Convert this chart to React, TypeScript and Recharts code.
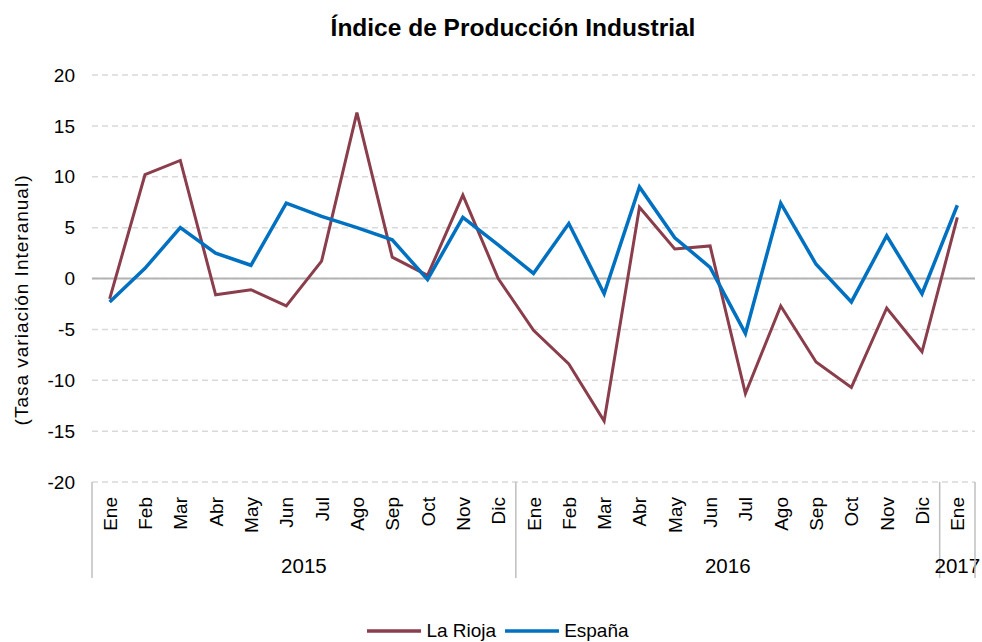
import { CartesianGrid, Legend, Line, LineChart, ReferenceLine, XAxis, YAxis } from 'recharts'

const months = [
  'Ene', 'Feb', 'Mar', 'Abr', 'May', 'Jun', 'Jul', 'Ago', 'Sep', 'Oct', 'Nov', 'Dic',
  'Ene', 'Feb', 'Mar', 'Abr', 'May', 'Jun', 'Jul', 'Ago', 'Sep', 'Oct', 'Nov', 'Dic',
  'Ene',
]

const yearGroups = [
  { year: '2015', count: 12 },
  { year: '2016', count: 12 },
  { year: '2017', count: 1 },
]

const laRioja = [
  -2.0, 10.2, 11.6, -1.6, -1.1, -2.7, 1.7, 16.3, 2.1, 0.3, 8.2, 0.0,
  -5.1, -8.4, -14.0, 7.0, 2.9, 3.2, -11.3, -2.7, -8.2, -10.7, -2.9, -7.2,
  6.0,
]

const espana = [
  -2.3, 1.0, 5.0, 2.5, 1.3, 7.4, 6.1, 5.0, 3.8, -0.1, 6.0, 3.3,
  0.5, 5.4, -1.5, 9.0, 4.0, 1.1, -5.4, 7.4, 1.4, -2.3, 4.2, -1.5,
  7.2,
]

const yTicks = [-20, -15, -10, -5, 0, 5, 10, 15, 20]

const data = months.map((m, i) => ({ idx: i, month: m, laRioja: laRioja[i], espana: espana[i] }))

const W = 982
const H = 642
const MARGIN = { top: 75, right: 7, left: 0, bottom: 0 }
const Y_AXIS_W = 92
const PLOT_W = W - MARGIN.left - MARGIN.right - Y_AXIS_W
const STEP = PLOT_W / months.length
const FONT = '"Liberation Sans", Arial, sans-serif'
const SEP = '#bfbfbf'
const RIOJA = '#8a3d4b'
const ESP = '#0070c0'

function MonthTick(props: any) {
  const { x, y, payload } = props
  const i = payload.value as number
  const parts = []
  parts.push(
    <text
      key="m"
      x={0}
      y={0}
      transform={`translate(${x + 7}, ${y + 15}) rotate(-90)`}
      textAnchor="end"
      fontSize={19}
      fill="#000"
      fontFamily={FONT}
    >
      {months[i]}
    </text>,
  )
  let start = 0
  for (const g of yearGroups) {
    if (i === start) {
      const left = x - STEP / 2
      parts.push(<line key="sep" x1={left} x2={left} y1={y} y2={y + 96} stroke={SEP} strokeWidth={1.5} />)
      parts.push(
        <text key="y" x={left + (g.count * STEP) / 2} y={y + 91} textAnchor="middle" fontSize={20.5} fill="#000" fontFamily={FONT}>
          {g.year}
        </text>,
      )
    }
    start += g.count
  }
  if (i === months.length - 1) {
    const right = x + STEP / 2
    parts.push(<line key="end" x1={right} x2={right} y1={y} y2={y + 96} stroke={SEP} strokeWidth={1.5} />)
  }
  return <g>{parts}</g>
}

function LegendContent() {
  const items = [
    { name: 'La Rioja', color: RIOJA },
    { name: 'España', color: ESP },
  ]
  return (
    <div
      style={{
        display: 'flex',
        justifyContent: 'center',
        alignItems: 'center',
        fontFamily: FONT,
        fontSize: 19,
        color: '#000',
        position: 'relative',
        top: 8,
        left: 15,
      }}
    >
      {items.map((it) => (
        <div key={it.name} style={{ display: 'flex', alignItems: 'center', marginRight: 9 }}>
          <svg width={54} height={10}>
            <line x1={0} x2={54} y1={5} y2={5} stroke={it.color} strokeWidth={3.5} />
          </svg>
          <span style={{ marginLeft: 5 }}>{it.name}</span>
        </div>
      ))}
    </div>
  )
}

function YLabel() {
  return (
    <text
      transform="translate(28, 300) rotate(-90)"
      textAnchor="middle"
      fontSize={19}
      letterSpacing={1}
      fill="#000"
      fontFamily={FONT}
    >
      (Tasa variación Interanual)
    </text>
  )
}

export default function App() {
  return (
    <div style={{ position: 'absolute', left: 0, top: 0, width: W, height: H, background: '#fff' }}>
      <div
        style={{
          position: 'absolute',
          top: 16,
          left: 0,
          width: 1026,
          textAlign: 'center',
          fontFamily: FONT,
          fontSize: 24.5,
          lineHeight: 1,
          fontWeight: 700,
          color: '#000',
        }}
      >
        Índice de Producción Industrial
      </div>
      <LineChart width={W} height={H} data={data} margin={MARGIN}>
        <CartesianGrid vertical={false} stroke="#d9d9d9" strokeDasharray="6 4" strokeWidth={1.5} />
        <XAxis
          dataKey="idx"
          scale="band"
          axisLine={false}
          tickLine={false}
          tickSize={0}
          tickMargin={0}
          interval={0}
          height={130}
          tick={<MonthTick />}
        />
        <YAxis
          domain={[-20, 20]}
          ticks={yTicks}
          width={Y_AXIS_W}
          axisLine={false}
          tickLine={false}
          tickSize={0}
          tickMargin={17}
          tick={{ fontSize: 19, fill: '#000', fontFamily: FONT }}
          label={{ content: () => <YLabel /> }}
        />
        <ReferenceLine y={0} stroke="#b3b3b3" strokeWidth={2} />
        <Legend verticalAlign="bottom" height={30} content={<LegendContent />} />
        <Line
          type="linear"
          dataKey="laRioja"
          name="La Rioja"
          stroke={RIOJA}
          strokeWidth={3}
          dot={false}
          activeDot={false}
          isAnimationActive={false}
        />
        <Line
          type="linear"
          dataKey="espana"
          name="España"
          stroke={ESP}
          strokeWidth={3.5}
          dot={false}
          activeDot={false}
          isAnimationActive={false}
        />
      </LineChart>
    </div>
  )
}
